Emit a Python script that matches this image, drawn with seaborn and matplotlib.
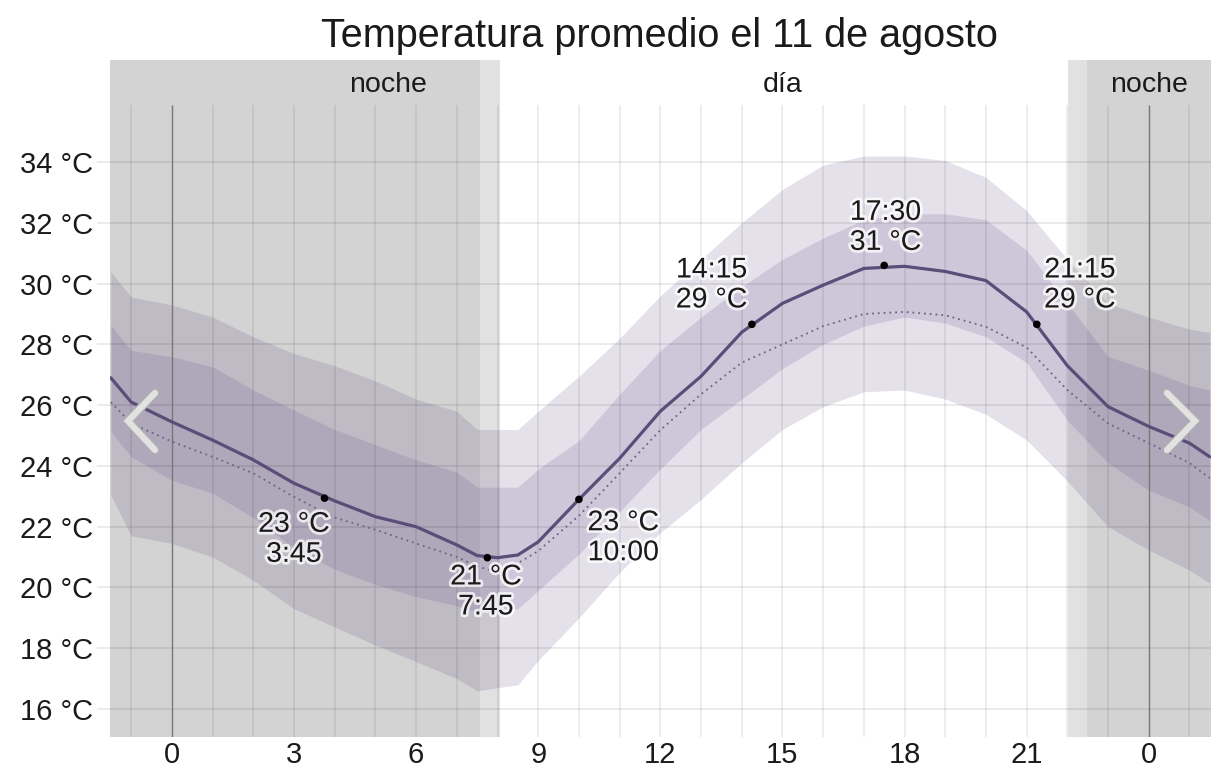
import numpy as np
import pandas as pd
import seaborn as sns
import matplotlib.pyplot as plt
import matplotlib.patheffects as pe

# hourly values (hour of day, -1.5 .. 25.5)
hours = [-1.5, -1, 0, 1, 2, 3, 4, 5, 6, 7, 7.5, 8, 8.5, 9, 10, 11, 12, 13, 14,
         15, 16, 17, 18, 19, 20, 21, 22, 23, 24, 25, 25.5]
temp_avg = [26.9, 26.1, 25.45, 24.85, 24.2, 23.43, 22.85, 22.33, 22.0, 21.4, 21.05,
            20.98, 21.07, 21.5, 22.9, 24.25, 25.8, 26.95, 28.4, 29.35, 29.95, 30.5,
            30.57, 30.4, 30.1, 29.07, 27.3, 25.95, 25.3, 24.75, 24.3]
temp_feel = [26.1, 25.4, 24.8, 24.3, 23.76, 22.98, 22.3, 21.9, 21.45, 21.0, 20.7,
             20.5, 20.8, 21.2, 22.36, 23.76, 25.18, 26.36, 27.4, 28.0, 28.6, 29.0,
             29.07, 28.96, 28.58, 27.9, 26.5, 25.4, 24.75, 24.1, 23.6]
p25 = [25.12, 24.3, 23.53, 23.1, 22.3, 21.3, 20.6, 20.1, 19.7, 19.4, 19.2, 19.2,
       19.3, 19.9, 21.1, 22.5, 23.9, 25.2, 26.2, 27.2, 28.0, 28.6, 28.9, 28.7,
       28.25, 27.4, 25.5, 24.1, 23.2, 22.65, 22.2]
p75 = [28.63, 27.8, 27.6, 27.26, 26.5, 25.84, 25.2, 24.7, 24.2, 23.8, 23.3, 23.3,
       23.3, 23.9, 24.83, 26.36, 27.8, 28.9, 29.9, 30.8, 31.5, 32.1, 32.3, 32.3,
       32.1, 31.1, 29.35, 27.6, 27.15, 26.65, 26.5]
p10 = [23.04, 21.7, 21.45, 21.0, 20.24, 19.3, 18.7, 18.1, 17.56, 17.0, 16.6, 16.7,
       16.8, 17.6, 19.0, 20.5, 21.8, 22.9, 24.1, 25.2, 25.95, 26.44, 26.5, 26.2,
       25.7, 24.85, 23.5, 22.0, 21.23, 20.57, 20.14]
p90 = [30.38, 29.56, 29.3, 28.9, 28.25, 27.7, 27.3, 26.8, 26.2, 25.8, 25.2, 25.2,
       25.2, 25.8, 26.95, 28.2, 29.6, 30.8, 32.0, 33.1, 33.9, 34.2, 34.2, 34.05,
       33.5, 32.4, 30.8, 29.35, 28.9, 28.5, 28.4]

# marked points
mark_hours = [3.75, 7.75, 10.0, 14.25, 17.5, 21.25]
mark_temps = [22.94, 20.98, 22.9, 28.66, 30.6, 28.66]
mark_labels = ["23 °C\n3:45", "21 °C\n7:45", "23 °C\n10:00",
               "14:15\n29 °C", "17:30\n31 °C", "21:15\n29 °C"]
mark_offsets = [(-22, -30), (-1, -25), (32, -28), (-29, 28), (1, 27), (31, 28)]

# night / twilight periods
night_spans = [(-1.52, 7.57), (22.48, 25.53)]
twilight_spans = [(7.57, 8.06), (22.02, 22.48)]
period_labels = ["noche", "día", "noche"]
period_x = [5.3, 15.0, 24.0]

xticks = [0, 3, 6, 9, 12, 15, 18, 21, 24]
xticklabels = ["0", "3", "6", "9", "12", "15", "18", "21", "0"]
yticks = [16, 18, 20, 22, 24, 26, 28, 30, 32, 34]

df = pd.DataFrame({"hour": hours, "avg": temp_avg, "feel": temp_feel})

sns.set_theme(style="white")
plt.rcParams["font.family"] = ["Liberation Sans", "DejaVu Sans"]

fig = plt.figure(figsize=(12.24, 7.73), dpi=100)
ax = fig.add_axes([0.0899, 0.0466, 0.8995, 0.8758])
ax.set_xlim(-1.52, 25.53)
ax.set_ylim(15.08, 37.36)

for a, b in night_spans:
    ax.axvspan(a, b, color="#d3d3d3", lw=0, zorder=0)
for a, b in twilight_spans:
    ax.axvspan(a, b, color="#e1e1e1", lw=0, zorder=0)

band = (0.35, 0.25, 0.5)
ax.fill_between(hours, p10, p90, color=band, alpha=0.155, lw=0, zorder=1)
ax.fill_between(hours, p25, p75, color=band, alpha=0.155, lw=0, zorder=1)

# grid
ax.hlines(yticks, -1.85, 25.53, color="black", alpha=0.08, lw=1.4, zorder=2, clip_on=False)
minor = [h for h in range(-1, 26) if h not in (0, 24)]
ax.vlines(minor, 15.08, 35.88, color="black", alpha=0.09, lw=1.1, zorder=2)
ax.vlines([0, 24], 15.08, 35.88, color="#777777", lw=1.0, zorder=2)

sns.lineplot(data=df, x="hour", y="feel", ax=ax, color="#6d6480", lw=1.3,
             linestyle=(0, (1, 2.2)), zorder=3)
sns.lineplot(data=df, x="hour", y="avg", ax=ax, color="#5a4e78", lw=2.3, zorder=4)
sns.scatterplot(x=mark_hours, y=mark_temps, ax=ax, color="black", s=30,
                edgecolor="none", zorder=5)

halo = [pe.withStroke(linewidth=4, foreground="white", alpha=0.75)]
for h, t, lab, off in zip(mark_hours, mark_temps, mark_labels, mark_offsets):
    ax.annotate(lab, (h, t), xytext=off, textcoords="offset points",
                ha="center", va="center", fontsize=20.5, color="#1a1a1a",
                linespacing=1.2, path_effects=halo, zorder=6)

for x, lab in zip(period_x, period_labels):
    ax.text(x, 36.53, lab, ha="center", va="center", fontsize=20.5, color="#1a1a1a")

# navigation chevrons
for pts in ([(155, 393), (128, 421), (155, 450)], [(1167, 393), (1195, 421), (1167, 450)]):
    xs = [p[0] / 1224 for p in pts]
    ys = [1 - p[1] / 773 for p in pts]
    fig.add_artist(plt.Line2D(xs, ys, transform=fig.transFigure, color="#e2e2e2",
                              lw=4.5, solid_capstyle="round", solid_joinstyle="miter",
                              path_effects=[pe.withStroke(linewidth=6.5, foreground="#b0b0b0")],
                              zorder=10))

ax.set_xticks(xticks)
ax.set_xticklabels(xticklabels)
ax.set_yticks(yticks)
ax.set_yticklabels([f"{v} °C" for v in yticks])
ax.tick_params(axis="both", length=0, labelsize=21, colors="#1a1a1a")
ax.tick_params(axis="y", pad=12)
ax.tick_params(axis="x", pad=3)
ax.set_xlabel("")
ax.set_ylabel("")
for s in ax.spines.values():
    s.set_visible(False)

fig.text(0.539, 0.953, "Temperatura promedio el 11 de agosto", ha="center",
         va="center", fontsize=28.5, color="#1a1a1a")

fig.savefig("out.png", dpi=100)
